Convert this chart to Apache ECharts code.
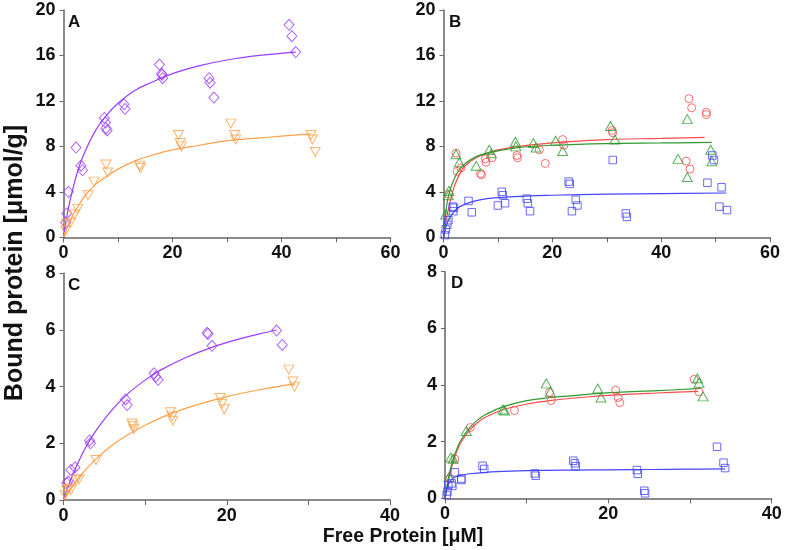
<!DOCTYPE html>
<html>
<head>
<meta charset="utf-8">
<script src="https://cdn.jsdelivr.net/npm/echarts@6/dist/echarts.min.js"></script>
<style>html,body{margin:0;padding:0;background:#fff}#c{width:787px;height:550px}</style>
</head>
<body>
<div id="c"></div>
<script>
// ---------- Data ----------
// Panel A
const A_diamond = [[0.4,1.3],[0.6,2.1],[0.9,4.0],[2.3,7.9],[3.2,6.3],[3.5,5.9],[7.5,10.5],[7.7,10.1],[7.8,9.6],[8.0,9.4],[11.1,11.7],[11.3,11.3],[17.6,15.2],[18.0,14.4],[18.1,14.3],[18.2,14.0],[26.7,14.0],[26.9,13.6],[27.6,12.3],[41.4,18.7],[41.9,17.7],[42.6,16.3]];
const A_triangle = [[0.4,0.6],[0.6,1.2],[1.3,1.3],[2.0,2.0],[2.6,2.5],[4.5,3.7],[5.6,4.9],[7.8,6.4],[8.1,5.7],[14.0,6.3],[14.1,6.1],[21.1,9.0],[21.4,8.3],[21.6,8.0],[30.7,10.0],[31.4,9.0],[31.6,8.6],[45.4,9.0],[45.7,8.6],[46.2,7.5]];
const A_diamondFit = [[0,0],[0.5,1.5],[1,2.8],[2,4.8],[3,6.4],[4,7.6],[6,9.5],[8,10.8],[10,11.8],[13,12.9],[16,13.6],[20,14.4],[25,15.1],[30,15.6],[36,16.0],[42.6,16.3]];
const A_triangleFit = [[0,0],[1,1.2],[2,2.2],[3,3.0],[4,3.7],[6,4.7],[8,5.4],[10,6.0],[13,6.7],[16,7.2],[20,7.7],[25,8.1],[30,8.5],[35,8.7],[40,8.9],[45.4,9.1]];
// Panel B
const B_circle = [[1.0,3.8],[2.3,7.4],[2.5,5.8],[3.2,6.1],[6.8,5.6],[7.0,5.5],[7.7,6.9],[7.8,6.6],[8.9,7.0],[13.5,7.2],[13.6,7.0],[17.6,7.7],[18.7,6.5],[21.9,8.6],[22.1,8.1],[31.0,9.4],[31.1,9.2],[45.1,12.2],[45.6,11.4],[44.6,6.7],[45.3,6.0],[48.3,11.0],[48.3,10.8]];
const B_triangle = [[0.4,2.0],[0.9,3.7],[1.0,4.1],[2.3,7.3],[2.9,6.6],[6.0,6.3],[8.4,7.7],[8.8,7.4],[13.2,8.4],[13.3,8.0],[16.5,8.3],[17.0,7.9],[20.6,8.5],[21.9,7.6],[30.7,9.8],[31.5,8.6],[43.1,6.9],[44.8,10.4],[44.8,5.3],[49.1,7.7],[49.3,6.7]];
const B_square = [[0.25,0.2],[0.4,0.7],[0.7,1.1],[0.9,1.5],[1.7,2.7],[1.8,2.3],[1.9,2.6],[4.6,3.2],[5.2,2.2],[10.0,2.8],[10.7,4.0],[10.9,3.7],[11.3,3.0],[15.3,3.4],[15.5,3.0],[15.9,2.3],[23.0,4.9],[23.2,4.7],[23.6,2.3],[24.3,3.3],[24.6,2.8],[31.1,6.8],[33.5,2.1],[33.7,1.8],[48.5,4.8],[49.4,7.2],[49.7,6.8],[51.1,4.4],[50.7,2.7],[52.1,2.4]];
const B_circleFit = [[0,0],[0.5,1.5],[1,2.7],[2,4.5],[3,5.6],[4,6.3],[6,7.0],[8,7.4],[10,7.7],[14,8.0],[20,8.3],[30,8.6],[40,8.7],[48,8.8]];
const B_triangleFit = [[0,0],[0.5,2.5],[1,3.8],[2,5.2],[3,6.0],[4,6.5],[6,7.1],[8,7.4],[10,7.6],[14,7.9],[20,8.1],[30,8.25],[40,8.3],[49.3,8.35]];
const B_squareFit = [[0,0],[0.5,1.0],[1,1.6],[2,2.3],[3,2.7],[5,3.1],[8,3.4],[12,3.55],[16,3.65],[20,3.7],[30,3.8],[40,3.85],[52,3.9]];
// Panel C
const C_diamond = [[0.4,0.6],[0.6,0.65],[0.9,1.06],[1.4,1.15],[3.2,2.1],[3.3,2.0],[7.6,3.55],[7.8,3.35],[11.1,4.47],[11.3,4.35],[11.6,4.24],[17.6,5.9],[17.7,5.86],[18.2,5.44],[26.1,5.98],[26.8,5.47]];
const C_triangle = [[0.2,0.18],[0.4,0.35],[0.6,0.4],[0.9,0.35],[1.55,0.7],[1.9,0.73],[4.0,1.41],[8.4,2.7],[8.5,2.6],[8.6,2.5],[13.1,3.1],[13.3,2.95],[13.4,2.8],[19.2,3.6],[19.4,3.4],[19.7,3.2],[27.6,4.6],[28.1,4.18],[28.3,4.0]];
const C_diamondFit = [[0,0],[0.5,0.42],[1,0.8],[2,1.45],[3,2.0],[4,2.46],[6,3.2],[8,3.78],[10,4.23],[12,4.6],[15,5.03],[18,5.37],[21,5.64],[24,5.86],[26.1,6.0]];
const C_triangleFit = [[0,0],[0.5,0.23],[1,0.44],[2,0.83],[3,1.16],[4,1.45],[6,1.94],[8,2.32],[10,2.64],[13,3.03],[16,3.33],[20,3.65],[24,3.89],[28.3,4.1]];
// Panel D
const D_circle = [[0.6,0.7],[1.2,1.39],[3.1,2.5],[8.5,3.1],[12.8,3.74],[13.0,3.45],[20.9,3.82],[21.2,3.56],[21.4,3.38],[30.5,4.2],[31.1,3.76]];
const D_triangle = [[0.5,0.76],[0.7,1.44],[1.0,1.4],[2.6,2.38],[7.1,3.14],[7.3,3.1],[12.4,4.06],[12.9,3.76],[18.7,3.88],[19.1,3.56],[30.9,4.24],[31.1,4.08],[31.6,3.6]];
const D_square = [[0.2,0.12],[0.3,0.24],[0.4,0.47],[0.8,0.53],[0.9,0.44],[1.2,0.92],[2.0,0.7],[2.0,0.65],[4.6,1.15],[4.8,1.04],[11.0,0.88],[11.1,0.8],[15.7,1.33],[15.9,1.24],[16.0,1.14],[23.5,1.0],[23.6,0.87],[24.4,0.27],[24.5,0.18],[33.3,1.82],[34.1,1.26],[34.3,1.07]];
const D_circleFit = [[0,0],[0.3,0.45],[0.6,0.85],[1,1.3],[1.5,1.7],[2,2.0],[3,2.4],[4,2.68],[5,2.87],[7,3.12],[10,3.33],[13,3.46],[17,3.57],[21,3.65],[26,3.72],[31,3.78]];
const D_triangleFit = [[0,0],[0.3,0.55],[0.6,0.96],[1,1.39],[1.5,1.78],[2,2.08],[3,2.49],[4,2.77],[5,2.96],[7,3.22],[10,3.45],[13,3.56],[17,3.66],[21,3.74],[26,3.8],[31.3,3.88]];
const D_squareFit = [[0,0],[0.3,0.4],[0.6,0.6],[1,0.72],[2,0.82],[3,0.87],[5,0.92],[8,0.96],[12,0.99],[16,1.0],[20,1.01],[25,1.02],[30,1.03],[34.3,1.04]];

const panelLetters = ['A','B','C','D'];
const xMax = [60,60,40,40];
const yMax = [20,20,8,8];
const yInterval = [4,4,2,2];
const yTitle = 'Bound protein [μmol/g]';
const xTitle = 'Free Protein [μM]';

// ---------- Styles ----------
const PURPLE = '#9b3dff', ORANGE = '#ffa04a', RED = '#ff4a4a', GREEN = '#2f9a2f', BLUE = '#4545ff';
const FONT = 'Liberation Sans, Arial, sans-serif';
const grids = [
  {left:63.5, top:10, width:327, height:227.3},
  {left:443.5, top:10, width:326.5, height:227.3},
  {left:63.5, top:273.3, width:326.5, height:226.7},
  {left:445, top:271.7, width:326.7, height:226.7}
];
const axisCol = '#666';
function xa(i){return {gridIndex:i,type:'value',min:0,max:xMax[i],interval:20,
  axisLine:{onZero:false,lineStyle:{color:axisCol,width:1.5}},
  axisTick:{length:5,lineStyle:{color:axisCol,width:1}},
  minorTick:{show:true,splitNumber:2,length:5,lineStyle:{color:axisCol,width:1}},
  splitLine:{show:false},
  axisLabel:{color:'#111',fontSize:18,fontWeight:'bold',fontFamily:FONT,margin:7}};}
function ya(i){return {gridIndex:i,type:'value',min:0,max:yMax[i],interval:yInterval[i],
  axisLine:{show:true,onZero:false,lineStyle:{color:axisCol,width:1.5}},
  axisTick:{show:true,length:4,lineStyle:{color:axisCol,width:1}},
  splitLine:{show:false},
  axisLabel:{color:'#111',fontSize:18,fontWeight:'bold',fontFamily:FONT,margin:8}};}
function sc(i,data,symbol,color,size,rot){return {type:'scatter',xAxisIndex:i,yAxisIndex:i,data:data,symbol:symbol,symbolSize:size,symbolRotate:rot||0,
  itemStyle:{color:'rgba(0,0,0,0)',borderColor:color,borderWidth:1},z:3,silent:true};}
function ln(i,data,color){return {type:'line',xAxisIndex:i,yAxisIndex:i,data:data,smooth:0.4,showSymbol:false,symbol:'none',
  lineStyle:{color:color,width:1.2},z:2,silent:true};}

const DIA=[10,11], TRI=[10,9], CIR=8, SQ=7.5;
const series = [
  ln(0,A_diamondFit,PURPLE), ln(0,A_triangleFit,ORANGE),
  sc(0,A_diamond,'diamond',PURPLE,DIA), sc(0,A_triangle,'triangle',ORANGE,TRI,180),
  ln(1,B_circleFit,RED), ln(1,B_triangleFit,GREEN), ln(1,B_squareFit,BLUE),
  sc(1,B_circle,'circle',RED,CIR), sc(1,B_triangle,'triangle',GREEN,TRI), sc(1,B_square,'rect',BLUE,SQ),
  ln(2,C_diamondFit,PURPLE), ln(2,C_triangleFit,ORANGE),
  sc(2,C_diamond,'diamond',PURPLE,DIA), sc(2,C_triangle,'triangle',ORANGE,TRI,180),
  ln(3,D_circleFit,RED), ln(3,D_triangleFit,GREEN), ln(3,D_squareFit,BLUE),
  sc(3,D_circle,'circle',RED,CIR), sc(3,D_triangle,'triangle',GREEN,TRI), sc(3,D_square,'rect',BLUE,SQ)
];
const letterPos = [[68,14],[449,14],[68,277],[451,275]];
const graphics = panelLetters.map((t,i)=>({type:'text',left:letterPos[i][0],top:letterPos[i][1],
  style:{text:t,fontSize:17,fontWeight:'bold',fontFamily:FONT,fill:'#111'}}));
graphics.push({type:'text',x:15,y:263,rotation:Math.PI/2,
  style:{text:yTitle,fontSize:25,fontWeight:'bold',fontFamily:FONT,fill:'#111',align:'center',verticalAlign:'middle'}});
graphics.push({type:'text',x:403,y:537,
  style:{text:xTitle,fontSize:19.5,fontWeight:'bold',fontFamily:FONT,fill:'#111',align:'center',verticalAlign:'middle'}});

const chart = echarts.init(document.getElementById('c'),null,{renderer:'canvas'});
chart.setOption({
  animation:false,
  backgroundColor:'#fff',
  grid:grids,
  xAxis:[0,1,2,3].map(xa),
  yAxis:[0,1,2,3].map(ya),
  series:series,
  graphic:graphics
});
</script>
</body>
</html>
